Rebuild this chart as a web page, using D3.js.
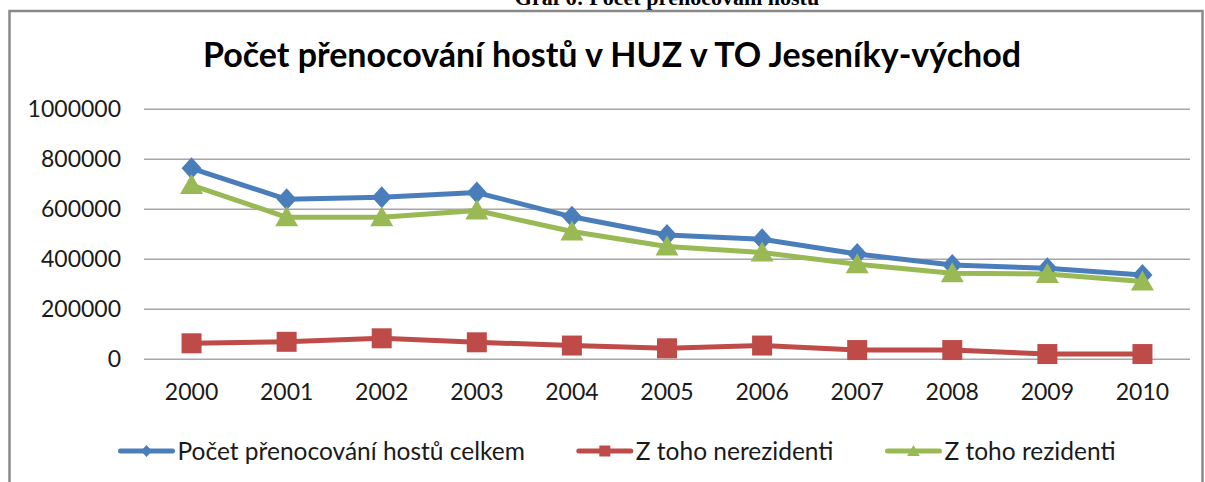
<!DOCTYPE html>
<html>
<head>
<meta charset="utf-8">
<script src="https://cdn.jsdelivr.net/npm/d3@7/dist/d3.min.js"></script>
<style>
    html, body { margin: 0; padding: 0; background: #fff; }
    svg { display: block; }
</style>
</head>
<body>
<div id="chart"></div>
<script>
const years = ['2000', '2001', '2002', '2003', '2004', '2005', '2006', '2007', '2008', '2009', '2010']
const totalGuests = [764000, 640000, 648000, 667000, 570000, 497000, 480000, 421000, 377000, 364000, 337000]
const nonResidents = [64000, 70000, 84000, 68000, 55000, 44000, 55000, 37000, 37000, 21000, 21000]
const residents = [697000, 568000, 568000, 595000, 511000, 451000, 427000, 380000, 344000, 341000, 311000]
const yTicks = [0, 200000, 400000, 600000, 800000, 1000000]
const seriesNames = ['Počet přenocování hostů celkem', 'Z toho nerezidenti', 'Z toho rezidenti']
const chartTitle = 'Počet přenocování hostů v HUZ v TO Jeseníky-východ'
const captionText = 'Graf 6: Počet přenocování hostů'

const width = 1205
const height = 482
const font = 'Lato, "Open Sans", sans-serif'

const series = [
    { name: seriesNames[0], values: totalGuests, color: '#4A7EBB', marker: 'diamond' },
    { name: seriesNames[1], values: nonResidents, color: '#BE4B48', marker: 'square' },
    { name: seriesNames[2], values: residents, color: '#98B954', marker: 'triangle' },
]

const svg = d3.select('#chart').append('svg').attr('width', width).attr('height', height)

// caption above the frame (cut by the page top, as in the source)
svg.append('text')
    .attr('x', 667)
    .attr('y', 5)
    .attr('text-anchor', 'middle')
    .attr('font-family', '"Liberation Serif", "Times New Roman", serif')
    .attr('font-weight', 'bold')
    .attr('font-size', '22px')
    .attr('fill', '#000')
    .text(captionText)

// chart frame
svg.append('rect')
    .attr('x', 9.5)
    .attr('y', 11)
    .attr('width', 1193)
    .attr('height', 600)
    .attr('fill', 'none')
    .attr('stroke', '#8a8a8a')
    .attr('stroke-width', 2.5)

svg.append('text')
    .attr('x', 612)
    .attr('y', 67)
    .attr('text-anchor', 'middle')
    .attr('font-family', font)
    .attr('font-weight', 'bold')
    .attr('font-size', '34px')
    .attr('fill', '#000')
    .text(chartTitle)

let x = d3.scaleBand().domain(years).range([144, 1190])
let y = d3.scaleLinear().domain([0, 1000000]).range([359.3, 109.3])
const cx = d => x(d) + x.bandwidth() / 2

// gridlines
svg.append('g')
    .selectAll('line')
    .data(yTicks)
    .enter()
    .append('line')
    .attr('x1', 144)
    .attr('x2', 1190)
    .attr('y1', d => y(d))
    .attr('y2', d => y(d))
    .attr('stroke', '#a6a6a6')
    .attr('stroke-width', 1.5)

// y labels
let yAxis = d3.axisLeft(y).tickValues(yTicks).tickSize(0).tickPadding(0).tickFormat(d3.format('d'))
svg.append('g')
    .attr('transform', 'translate(121,0)')
    .call(yAxis)
    .call(g => g.select('.domain').remove())
    .selectAll('text')
    .attr('font-family', font)
    .attr('font-size', '23px')
    .attr('fill', '#1a1a1a')

// x labels
let xAxis = d3.axisBottom(x).tickSize(0).tickPadding(0)
svg.append('g')
    .attr('transform', 'translate(0,384)')
    .call(xAxis)
    .call(g => g.select('.domain').remove())
    .selectAll('text')
    .attr('font-family', font)
    .attr('font-size', '23px')
    .attr('fill', '#1a1a1a')

function markerPath(type) {
    if (type === 'diamond') return 'M0,-11L10,0L0,11L-10,0Z'
    if (type === 'square') return 'M-10,-10H10V10H-10Z'
    return 'M0,-11L11.5,9L-11.5,9Z'
}

let line = d3.line().x(d => cx(d.year)).y(d => y(d.value))

series.forEach(function (s) {
    let pts = years.map((yr, i) => ({ year: yr, value: s.values[i] }))
    let g = svg.append('g')
    g.append('path')
        .datum(pts)
        .attr('d', line)
        .attr('fill', 'none')
        .attr('stroke', s.color)
        .attr('stroke-width', 5)
        .attr('stroke-linejoin', 'round')
    g.selectAll('path.mk')
        .data(pts)
        .enter()
        .append('path')
        .attr('class', 'mk')
        .attr('d', markerPath(s.marker))
        .attr('transform', d => 'translate(' + cx(d.year) + ',' + y(d.value) + ')')
        .attr('fill', s.color)
})

// legend
let legend = svg.append('g')
let legendX = 0
series.forEach(function (s, i) {
    let item = legend.append('g').attr('transform', 'translate(' + legendX + ',0)')
    item.append('line')
        .attr('x1', 0)
        .attr('x2', 52)
        .attr('y1', 0)
        .attr('y2', 0)
        .attr('stroke', s.color)
        .attr('stroke-width', 5)
        .attr('stroke-linecap', 'round')
    item.append('path')
        .attr('d', markerPath(s.marker))
        .attr('transform', 'translate(26,0) scale(0.55)')
        .attr('fill', s.color)
    let t = item.append('text')
        .attr('x', 57)
        .attr('y', 8.5)
        .attr('font-family', font)
        .attr('font-size', '24.5px')
        .attr('fill', '#1a1a1a')
        .text(s.name)
    legendX += 57 + t.node().getComputedTextLength() + 54
})
legendX -= 54
legend.attr('transform', 'translate(' + (618 - legendX / 2) + ',451)')
</script>
</body>
</html>
